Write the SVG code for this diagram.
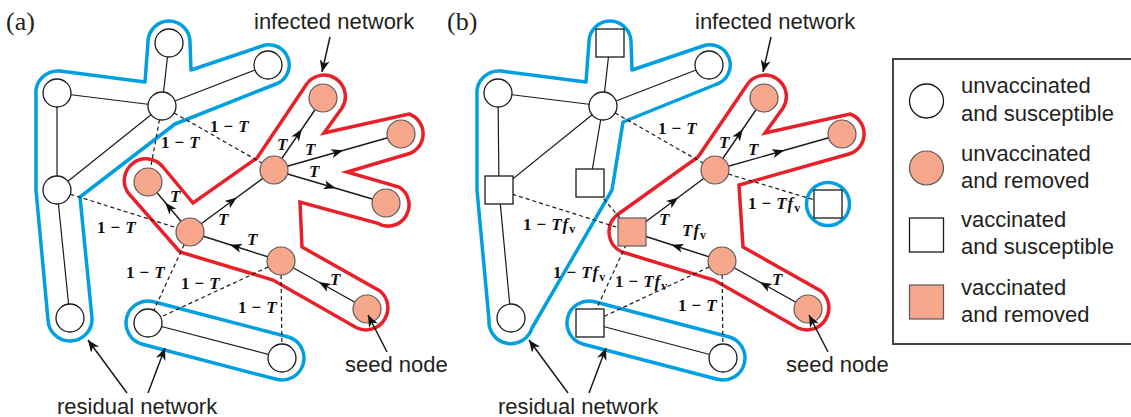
<svg xmlns="http://www.w3.org/2000/svg" width="1131" height="417" viewBox="0 0 1131 417">
<style>
.bg{fill:#fff}
.blue{fill:none;stroke:#00A0E0;stroke-width:3.5;stroke-linejoin:round}
.red{fill:none;stroke:#E8202A;stroke-width:3.5;stroke-linejoin:miter}
.e{stroke:#1a1a1a;stroke-width:1.2;fill:none}
.d{stroke:#1a1a1a;stroke-width:1.2;fill:none;stroke-dasharray:4 3}
.a{stroke:#1a1a1a;stroke-width:1.4;fill:none;marker-mid:url(#mid)}
.ann{stroke:#1a1a1a;stroke-width:1.5;fill:none;marker-end:url(#ah)}
.w{fill:#fff;stroke:#1a1a1a;stroke-width:1.3}
.s{fill:#F6A78C;stroke:#5a5a5a;stroke-width:1.2}
.t{font-family:"Liberation Sans",Arial,sans-serif;font-size:22px;fill:#231f20}
.p{font-family:"Liberation Serif","Times New Roman",serif;font-size:26px;fill:#231f20}
.m{font-family:"Liberation Serif","Times New Roman",serif;font-size:17px;font-weight:bold;fill:#111}
.i{font-style:italic}
.sub{font-size:12px;font-weight:bold;font-style:normal}
</style>
<defs>
<marker id="mid" viewBox="-8 -6 16 12" markerWidth="16" markerHeight="12" refX="0" refY="0" orient="auto" markerUnits="userSpaceOnUse">
<path d="M6,0 L-6,-4.5 L-3,0 L-6,4.5 Z" fill="#111"/>
</marker>
<marker id="ah" viewBox="-13 -6 14 12" markerWidth="14" markerHeight="12" refX="0" refY="0" orient="auto" markerUnits="userSpaceOnUse">
<path d="M0,0 L-12,-5 L-8.5,0 L-12,5 Z" fill="#111"/>
</marker>
</defs>
<rect class="bg" x="0" y="0" width="1131" height="417"/>

<g id="outlines">
<path class="blue" d="M80,197 L175,124 L276,84 A20 20 0 0 0 262,46 L191,70 L190,42 A21 21 0 0 0 148,42 L145,82 L60,71 A22 22 0 0 0 36,95 L36,190 L48,320 A22 22 0 0 0 92,318 Z"/>
<rect class="blue" x="123.75" y="318.5" width="182.5" height="44" rx="22" ry="22" transform="rotate(14.65 215 340.5)"/>
<path class="red" d="M180,252 L129,194 A21 21 0 0 1 163,167 L193,203 L257,158 L306,85 A21 21 0 0 1 342,108 L324,133 L409,114 A21 21 0 0 1 408,154 L347,172 L399,187 A21 21 0 0 1 377,223 L300,202 L302,247 L380,291 A22 22 0 0 1 357,328 L273,280 Z"/>

<path class="blue" d="M532,328 L612,190 L623,122 L717,84 A20 20 0 0 0 703,46 L632,70 L631,42 A21 21 0 0 0 589,42 L586,82 L501,71 A22 22 0 0 0 477,95 L477,190 L489,320 A22 22 0 0 0 532,328 Z"/>
<rect class="blue" x="564.75" y="318.5" width="182.5" height="44" rx="22" ry="22" transform="rotate(14.65 656 340.5)"/>
<circle class="blue" cx="828" cy="204" r="21.5"/>
<path class="red" d="M622,252 A22 22 0 0 1 617,215 L698,157 L747,85 A21 21 0 0 1 783,108 L765,133 L850,114 A21 21 0 0 1 849,154 L739,185 L743,247 L821,291 A22 22 0 0 1 798,328 L714,280 Z"/>
</g>

<g id="connectors">
<path class="e" d="M169,43 L162,106"/>
<path class="e" d="M57,93 L162,106"/>
<path class="e" d="M162,106 L268,65"/>
<path class="e" d="M57,93 L57,190"/>
<path class="e" d="M57,190 L162,106"/>
<path class="e" d="M57,190 L70,318"/>
<path class="e" d="M148,323 L282,358"/>
<path class="d" d="M162,106 L148,182"/>
<path class="d" d="M162,106 L274,170"/>
<path class="d" d="M57,190 L190,232"/>
<path class="d" d="M190,232 L148,323"/>
<path class="d" d="M281,261 L148,323"/>
<path class="d" d="M281,261 L282,358"/>
<path class="a" d="M274,170 L298.5,134 L323,98"/>
<path class="a" d="M274,170 L337.5,152 L401,134"/>
<path class="a" d="M274,170 L330,186.5 L386,203"/>
<path class="a" d="M190,232 L232,201 L274,170"/>
<path class="a" d="M190,232 L169,207 L148,182"/>
<path class="a" d="M281,261 L235.5,246.5 L190,232"/>
<path class="a" d="M367,309 L324,285 L281,261"/>
<path class="e" d="M610,43 L603,106"/>
<path class="e" d="M498,93 L603,106"/>
<path class="e" d="M603,106 L709,65"/>
<path class="e" d="M498,93 L499,190"/>
<path class="e" d="M499,190 L603,106"/>
<path class="e" d="M603,106 L590,183"/>
<path class="e" d="M499,190 L511,318"/>
<path class="e" d="M590,323 L723,358"/>
<path class="d" d="M603,106 L715,170"/>
<path class="d" d="M715,170 L828,204"/>
<path class="d" d="M499,190 L632,232"/>
<path class="d" d="M590,183 L632,232"/>
<path class="d" d="M632,232 L590,323"/>
<path class="d" d="M722,261 L590,323"/>
<path class="d" d="M722,261 L723,358"/>
<path class="a" d="M715,170 L739.5,134 L764,98"/>
<path class="a" d="M715,170 L778.5,152 L842,134"/>
<path class="a" d="M632,232 L673.5,201 L715,170"/>
<path class="a" d="M722,261 L677,246.5 L632,232"/>
<path class="a" d="M808,309 L765,285 L722,261"/>
</g>

<g id="edge-labels">
<text class="m" x="210" y="132">1<tspan dx="5">−</tspan><tspan dx="5" class="i">T</tspan></text>
<text class="m" x="161" y="148">1<tspan dx="5">−</tspan><tspan dx="5" class="i">T</tspan></text>
<text class="m" x="97" y="233">1<tspan dx="5">−</tspan><tspan dx="5" class="i">T</tspan></text>
<text class="m" x="126" y="278">1<tspan dx="5">−</tspan><tspan dx="5" class="i">T</tspan></text>
<text class="m" x="181" y="289">1<tspan dx="5">−</tspan><tspan dx="5" class="i">T</tspan></text>
<text class="m" x="238" y="313">1<tspan dx="5">−</tspan><tspan dx="5" class="i">T</tspan></text>
<text class="m i" x="277" y="150">T</text>
<text class="m i" x="305" y="155">T</text>
<text class="m i" x="309" y="177">T</text>
<text class="m i" x="170" y="202">T</text>
<text class="m i" x="218" y="225">T</text>
<text class="m i" x="247" y="245">T</text>
<text class="m i" x="330" y="285">T</text>

<text class="m" x="658" y="134">1<tspan dx="5">−</tspan><tspan dx="5" class="i">T</tspan></text>
<text class="m" x="748" y="209">1<tspan dx="5">−</tspan><tspan dx="5" class="i">T</tspan><tspan class="i" dx="1">f</tspan><tspan class="sub" dx="1" dy="3">v</tspan></text>
<text class="m" x="523" y="230">1<tspan dx="5">−</tspan><tspan dx="5" class="i">T</tspan><tspan class="i" dx="1">f</tspan><tspan class="sub" dx="1" dy="3">v</tspan></text>
<text class="m" x="553" y="278">1<tspan dx="5">−</tspan><tspan dx="5" class="i">T</tspan><tspan class="i" dx="1">f</tspan><tspan class="sub" dx="1" dy="3">v</tspan></text>
<text class="m" x="615" y="287">1<tspan dx="5">−</tspan><tspan dx="5" class="i">T</tspan><tspan class="i" dx="1">f</tspan><tspan class="sub" dx="1" dy="3">v</tspan></text>
<text class="m" x="678" y="311">1<tspan dx="5">−</tspan><tspan dx="5" class="i">T</tspan></text>
<text class="m i" x="719" y="148">T</text>
<text class="m i" x="748" y="155">T</text>
<text class="m i" x="659" y="225">T</text>
<text class="m" x="682" y="236"><tspan class="i">T</tspan><tspan class="i" dx="1">f</tspan><tspan class="sub" dx="1" dy="3">v</tspan></text>
<text class="m i" x="772" y="285">T</text>
</g>

<g id="a-n1"><circle class="w" cx="169" cy="43" r="14"/></g>
<g id="a-n2"><circle class="w" cx="268" cy="65" r="14"/></g>
<g id="a-n3"><circle class="w" cx="57" cy="93" r="14"/></g>
<g id="a-n4"><circle class="w" cx="162" cy="106" r="14"/></g>
<g id="a-n5"><circle class="w" cx="57" cy="190" r="14"/></g>
<g id="a-n6"><circle class="w" cx="70" cy="318" r="14"/></g>
<g id="a-i1"><circle class="s" cx="323" cy="98" r="14"/></g>
<g id="a-i2"><circle class="s" cx="401" cy="134" r="14"/></g>
<g id="a-i3"><circle class="s" cx="274" cy="170" r="14"/></g>
<g id="a-i4"><circle class="s" cx="148" cy="182" r="14"/></g>
<g id="a-i5"><circle class="s" cx="386" cy="203" r="14"/></g>
<g id="a-i6"><circle class="s" cx="190" cy="232" r="14"/></g>
<g id="a-i7"><circle class="s" cx="281" cy="261" r="14"/></g>
<g id="a-seed"><circle class="s" cx="367" cy="309" r="14"/></g>
<g id="a-r1"><circle class="w" cx="148" cy="323" r="14"/></g>
<g id="a-r2"><circle class="w" cx="282" cy="358" r="14"/></g>

<g id="b-n1"><rect class="w" x="596" y="29" width="28" height="28"/></g>
<g id="b-n2"><circle class="w" cx="709" cy="65" r="14"/></g>
<g id="b-n3"><circle class="w" cx="498" cy="93" r="14"/></g>
<g id="b-n4"><circle class="w" cx="603" cy="106" r="14"/></g>
<g id="b-n5"><rect class="w" x="485" y="176" width="28" height="28"/></g>
<g id="b-n6"><circle class="w" cx="511" cy="318" r="14"/></g>
<g id="b-n7"><rect class="w" x="576" y="169" width="28" height="28"/></g>
<g id="b-i1"><circle class="s" cx="764" cy="98" r="14"/></g>
<g id="b-i2"><circle class="s" cx="842" cy="134" r="14"/></g>
<g id="b-i3"><circle class="s" cx="715" cy="170" r="14"/></g>
<g id="b-v5"><rect class="w" x="814" y="190" width="28" height="28"/></g>
<g id="b-i6"><rect class="s" x="618" y="218" width="28" height="28"/></g>
<g id="b-i7"><circle class="s" cx="722" cy="261" r="14"/></g>
<g id="b-seed"><circle class="s" cx="808" cy="309" r="14"/></g>
<g id="b-r1"><rect class="w" x="576" y="309" width="28" height="28"/></g>
<g id="b-r2"><circle class="w" cx="723" cy="358" r="14"/></g>

<g id="annotations">
<text class="p" x="6" y="30">(a)</text>
<text class="p" x="447" y="30">(b)</text>
<text class="t" x="254" y="29">infected network</text>
<path class="ann" d="M330,37 L322,72"/>
<text class="t" x="695" y="29">infected network</text>
<path class="ann" d="M771,37 L763,72"/>
<text class="t" x="345" y="372">seed node</text>
<path class="ann" d="M387,352 L368,315"/>
<text class="t" x="786" y="372">seed node</text>
<path class="ann" d="M828,352 L809,315"/>
<text class="t" x="57" y="414">residual network</text>
<path class="ann" d="M127,393 L88,340"/>
<path class="ann" d="M148,393 L165,348"/>
<text class="t" x="498" y="414">residual network</text>
<path class="ann" d="M568,393 L529,340"/>
<path class="ann" d="M589,393 L606,348"/>
</g>

<g id="legend">
<rect x="893" y="59" width="260" height="285" fill="#fff" stroke="#444" stroke-width="2"/>
<circle class="w" cx="926.5" cy="101" r="17"/>
<circle class="s" cx="926.5" cy="168" r="17"/>
<rect class="w" x="909.5" y="218" width="34" height="34"/>
<rect class="s" x="909.5" y="285" width="34" height="34"/>
<text class="t" x="961" y="93">unvaccinated</text>
<text class="t" x="961" y="121">and susceptible</text>
<text class="t" x="961" y="161">unvaccinated</text>
<text class="t" x="961" y="188">and removed</text>
<text class="t" x="961" y="227">vaccinated</text>
<text class="t" x="961" y="254">and susceptible</text>
<text class="t" x="961" y="295">vaccinated</text>
<text class="t" x="961" y="322">and removed</text>
</g>
</svg>
